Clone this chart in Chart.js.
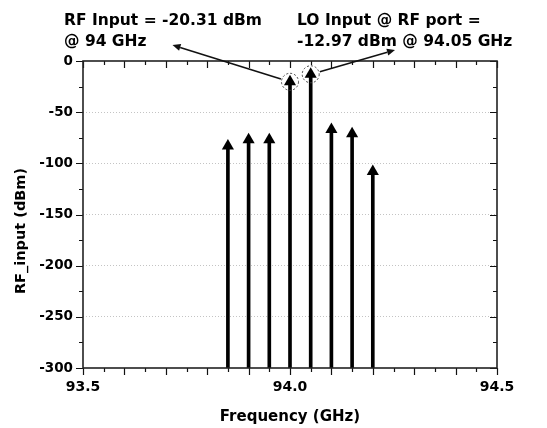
<!DOCTYPE html>
<html>
<head>
<meta charset="utf-8">
<script src="https://cdn.jsdelivr.net/npm/chart.js@4"></script>
<style>
  html, body { margin: 0; padding: 0; background: #fff; }
  #wrap { width: 547px; height: 428px; position: relative; }
</style>
</head>
<body>
<div id="wrap"><canvas id="spectrum-canvas"></canvas></div>
<script>
// spectrum lines
const freq_ghz  = [93.85, 93.9, 93.95, 94.0, 94.05, 94.1, 94.15, 94.2];
const level_dbm = [-83, -77, -77, -20.31, -12.97, -67, -71, -108];

const x_range = [93.5, 94.5];
const y_range = [-300, 0];

const FONT = "'DejaVu Sans', Verdana, sans-serif";

// frame, mirrored ticks, y title and the two callouts
const framePlugin = {
    id: 'framePlugin',
    afterDraw: (chart) => {
        const ctx = chart.ctx;
        const area = chart.chartArea;
        const xs = chart.scales.x;
        const ys = chart.scales.y;
        ctx.save();

        // ticks
        ctx.strokeStyle = '#111';
        ctx.lineWidth = 1.2;
        ctx.beginPath();
        for (let k = 0; k <= 20; k++) {
            const px = Math.round(xs.getPixelForValue(x_range[0] + k * 0.05)) + 0.5;
            const len = (k % 2 === 0) ? 7 : 4;
            ctx.moveTo(px, area.bottom); ctx.lineTo(px, area.bottom + len);
            ctx.moveTo(px, area.top); ctx.lineTo(px, area.top + len);
        }
        for (let k = 0; k <= 12; k++) {
            const py = Math.round(ys.getPixelForValue(-k * 25)) + 0.5;
            const len = (k % 2 === 0) ? 7 : 4;
            ctx.moveTo(area.left, py); ctx.lineTo(area.left - len, py);
            ctx.moveTo(area.right, py); ctx.lineTo(area.right - len, py);
        }
        ctx.stroke();

        // frame
        ctx.lineWidth = 1.6;
        ctx.strokeStyle = '#222';
        ctx.strokeRect(area.left, area.top, area.right - area.left, area.bottom - area.top);

        // y axis title (sits a bit below the axis centre in the original)
        ctx.fillStyle = '#000';
        ctx.font = 'bold 14.5px ' + FONT;
        ctx.textAlign = 'center';
        ctx.textBaseline = 'middle';
        ctx.translate(21, 231);
        ctx.rotate(-Math.PI / 2);
        ctx.fillText('RF_input (dBm)', 0, 0);
        ctx.setTransform(1, 0, 0, 1, 0, 0);

        // callout text
        ctx.font = 'bold 15.5px ' + FONT;
        ctx.textAlign = 'left';
        ctx.textBaseline = 'alphabetic';
        ctx.fillText('RF Input = -20.31 dBm', 64, 25);
        ctx.fillText('@ 94 GHz', 64, 46);
        ctx.fillText('LO Input @ RF port =', 297, 25);
        ctx.fillText('-12.97 dBm @ 94.05 GHz', 297, 46);

        // dashed circles round the two strongest tones + pointer arrows
        const callouts = [
            { i: 3, to: [172.5, 45] },
            { i: 4, to: [395, 50] }
        ];
        const r = 8.5;
        callouts.forEach(c => {
            const cx = xs.getPixelForValue(freq_ghz[c.i]);
            const cy = ys.getPixelForValue(level_dbm[c.i]);
            ctx.setLineDash([2, 2]);
            ctx.lineWidth = 1;
            ctx.strokeStyle = '#444';
            ctx.beginPath();
            ctx.arc(cx, cy, r, 0, Math.PI * 2);
            ctx.stroke();
            ctx.setLineDash([]);

            const dx = c.to[0] - cx, dy = c.to[1] - cy;
            const d = Math.hypot(dx, dy);
            const ux = dx / d, uy = dy / d;
            const sx = cx + ux * (r + 1), sy = cy + uy * (r + 1);
            const hl = 8, hw = 3.5;
            const bx = c.to[0] - ux * hl, by = c.to[1] - uy * hl;
            ctx.strokeStyle = '#111';
            ctx.lineWidth = 1.6;
            ctx.beginPath();
            ctx.moveTo(sx, sy);
            ctx.lineTo(bx, by);
            ctx.stroke();
            ctx.fillStyle = '#111';
            ctx.beginPath();
            ctx.moveTo(c.to[0], c.to[1]);
            ctx.lineTo(bx - uy * hw, by + ux * hw);
            ctx.lineTo(bx + uy * hw, by - ux * hw);
            ctx.closePath();
            ctx.fill();
        });

        ctx.restore();
    }
};

const ctx = document.getElementById('spectrum-canvas').getContext('2d');

new Chart(ctx, {
    type: 'bar',
    data: {
        datasets: [
            {
                type: 'bar',
                label: 'stem',
                data: freq_ghz.map((f, i) => ({ x: f, y: [y_range[0], level_dbm[i]] })),
                backgroundColor: '#000',
                borderWidth: 0,
                barThickness: 3,
                grouped: false
            },
            {
                type: 'scatter',
                label: 'tip',
                data: freq_ghz.map((f, i) => ({ x: f, y: level_dbm[i] })),
                pointStyle: 'triangle',
                pointRadius: 7,
                pointBackgroundColor: '#000',
                pointBorderColor: '#000',
                pointBorderWidth: 0,
                showLine: false
            }
        ]
    },
    options: {
        responsive: true,
        maintainAspectRatio: false,
        animation: false,
        layout: { padding: { left: 0, right: 50, top: 61, bottom: 0 } },
        plugins: {
            legend: { display: false },
            tooltip: { enabled: false }
        },
        scales: {
            x: {
                type: 'linear',
                min: x_range[0],
                max: x_range[1],
                offset: false,
                grid: { display: false, drawTicks: false },
                border: { display: false },
                ticks: {
                    stepSize: 0.5,
                    padding: 11,
                    color: '#000',
                    font: { family: FONT, size: 14, weight: 'bold' },
                    callback: (v) => v.toFixed(1)
                },
                title: {
                    display: true,
                    text: 'Frequency (GHz)',
                    color: '#000',
                    font: { family: FONT, size: 15, weight: 'bold' },
                    padding: { top: 0, bottom: 2 }
                },
                afterFit: (scale) => { scale.height = 60; }
            },
            y: {
                min: y_range[0],
                max: y_range[1],
                grid: {
                    drawTicks: false,
                    color: (c) => (c.tick && (c.tick.value === 0 || c.tick.value === -300)) ? 'rgba(0,0,0,0)' : '#c4c4c4',
                    lineWidth: 1
                },
                border: { display: false, dash: [1, 2] },
                ticks: {
                    stepSize: 50,
                    padding: 10,
                    color: '#000',
                    font: { family: FONT, size: 13.5, weight: 'bold' }
                },
                title: { display: false },
                afterFit: (scale) => { scale.width = 83; }
            }
        }
    },
    plugins: [framePlugin]
});
</script>
</body>
</html>
